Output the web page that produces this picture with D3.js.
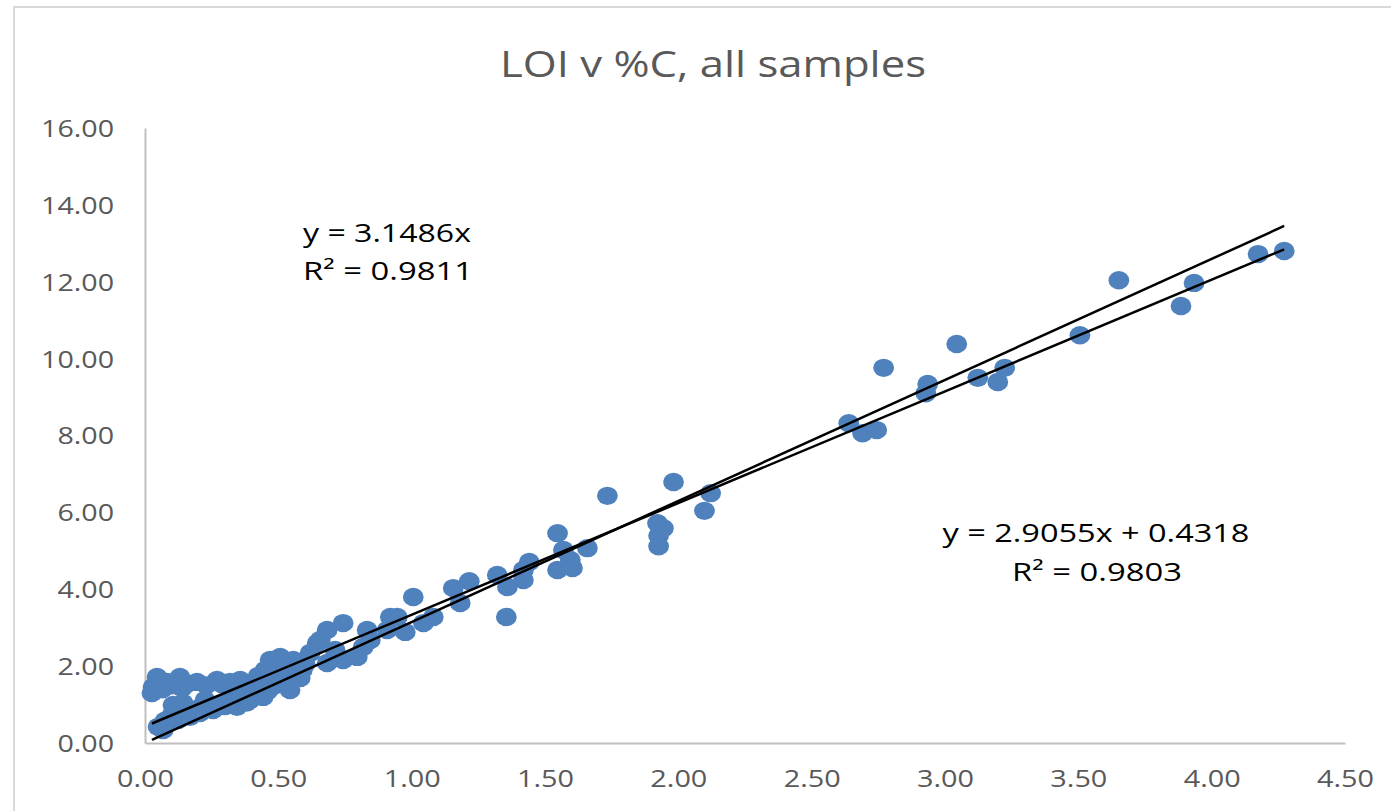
<!DOCTYPE html>
<html>
<head>
<meta charset="utf-8">
<script src="https://cdn.jsdelivr.net/npm/d3@7"></script>
<style>
html,body{margin:0;padding:0;background:#fff;}
svg{display:block;}
</style>
</head>
<body>
<svg id="chart" width="1391" height="811"></svg>
<script>
// ---- Data (%C vs LOI) ----
const xValues = [
  0.030,0.045,0.026,0.056,0.083,0.131,0.139,0.195,0.270,0.319,
  0.357,0.394,0.424,0.469,0.507,0.556,0.571,0.544,0.443,0.394,
  0.345,0.300,0.255,0.206,0.169,0.124,0.083,0.068,0.049,0.101,
  0.143,0.105,0.225,0.488,0.526,0.450,0.582,0.619,0.646,0.683,
  0.743,0.683,0.743,0.796,0.818,0.833,0.845,0.908,0.920,0.946,
  0.976,1.006,1.044,1.081,1.156,1.182,1.216,0.713,0.657,
  0.065,0.100,0.160,0.230,0.290,0.335,0.380,0.420,0.470,0.510,
  0.540,0.590,0.600,0.460,0.380,0.290,0.200,0.150,0.110,0.075,
  0.330,0.420,0.500,
  1.321,1.359,1.355,1.419,1.419,1.441,1.547,1.547,1.569,1.595,
  1.603,1.659,1.734,1.922,1.944,1.926,1.926,1.982,2.098,2.121,
  2.639,2.691,2.744,2.770,2.935,2.928,3.044,3.123,3.198,3.224,
  3.506,3.652,3.885,3.934,4.174,4.272
];
const yValues = [
  1.46,1.72,1.30,1.53,1.59,1.72,1.43,1.59,1.64,1.59,
  1.64,1.48,1.74,2.16,2.24,2.16,1.85,1.38,1.20,1.12,
  0.94,0.96,0.86,0.78,0.68,0.60,0.52,0.34,0.42,0.73,
  1.04,0.99,1.12,1.51,1.77,1.90,1.69,2.34,2.60,2.94,
  3.12,2.08,2.16,2.24,2.50,2.94,2.68,2.94,3.28,3.28,
  2.89,3.80,3.12,3.28,4.03,3.64,4.21,2.42,2.68,
  1.40,1.50,1.55,1.50,1.52,1.45,1.25,1.35,1.70,1.95,
  1.60,1.90,2.05,1.35,1.05,1.02,0.90,0.82,0.80,0.58,
  1.20,1.55,1.80,
  4.37,4.06,3.28,4.50,4.24,4.71,5.46,4.50,5.02,4.76,
  4.55,5.07,6.43,5.72,5.59,5.39,5.12,6.79,6.04,6.50,
  8.32,8.06,8.14,9.76,9.34,9.10,10.38,9.50,9.39,9.76,
  10.61,12.04,11.37,11.97,12.72,12.80
];
const xTickValues = [0,0.5,1,1.5,2,2.5,3,3.5,4,4.5];
const xTickLabels = ["0.00","0.50","1.00","1.50","2.00","2.50","3.00","3.50","4.00","4.50"];
const yTickValues = [0,2,4,6,8,10,12,14,16];
const yTickLabels = ["0.00","2.00","4.00","6.00","8.00","10.00","12.00","14.00","16.00"];
const titleText = "LOI v %C, all samples";
const fitThroughOrigin = {slope: 3.1486, intercept: 0, label: "y = 3.1486x", r2: "R² = 0.9811"};
const fitLinear = {slope: 2.9055, intercept: 0.4318, label: "y = 2.9055x + 0.4318", r2: "R² = 0.9803"};

// ---- Drawing ----
const svg = d3.select("#chart");
const FONT = "'Open Sans', 'Liberation Sans', sans-serif";
const GREY_TXT = "#595959";

// chart border
svg.append("rect").attr("x",14).attr("y",7).attr("width",1400).attr("height",830)
  .attr("fill","#fff").attr("stroke","#d9d9d9").attr("stroke-width",2);

const x = d3.scaleLinear().domain([0,4.5]).range([145,1345]);
const y = d3.scaleLinear().domain([0,16]).range([743,128]);

// stretch text horizontally to match target width
function fitWidth(sel, target){
  const w = sel.node().getComputedTextLength();
  return target / w;
}

// X axis
const gx = svg.append("g").attr("transform",`translate(0,${y(0)})`)
  .call(d3.axisBottom(x).tickValues(xTickValues).tickFormat((d,i)=>xTickLabels[i]).tickSize(0).tickSizeOuter(0));
gx.select(".domain").attr("stroke","#bfbfbf").attr("stroke-width",2);
gx.selectAll("text").attr("font-family",FONT).attr("font-size",24).attr("fill",GREY_TXT)
  .attr("dy",0).attr("y",44);
{
  const sx = fitWidth(gx.selectAll("text").filter((d,i)=>i===9), 57);
  gx.selectAll("text").attr("transform",`scale(${sx},1)`);
}

// Y axis
const gy = svg.append("g").attr("transform",`translate(${x(0)},0)`)
  .call(d3.axisLeft(y).tickValues(yTickValues).tickFormat((d,i)=>yTickLabels[i]).tickSize(0).tickSizeOuter(0));
gy.select(".domain").attr("stroke","#bfbfbf").attr("stroke-width",2);
gy.selectAll("text").attr("font-family",FONT).attr("font-size",24).attr("fill",GREY_TXT)
  .attr("dy","0.35em");
{
  const sx = fitWidth(gy.selectAll("text").filter((d,i)=>i===8), 73);
  gy.selectAll("text").attr("x", -31/sx).attr("transform",`scale(${sx},1)`);
}

// Title
{
  const t = svg.append("text").attr("font-family",FONT).attr("font-size",37).attr("fill",GREY_TXT)
    .attr("text-anchor","middle").text(titleText);
  const sx = fitWidth(t, 426);
  t.attr("transform",`translate(713,77) scale(${sx},1)`);
}

// Points
const pts = xValues.map((v,i)=>[v,yValues[i]]);
svg.append("g").selectAll("ellipse").data(pts).join("ellipse")
  .attr("cx",d=>x(d[0])).attr("cy",d=>y(d[1]))
  .attr("rx",10.4).attr("ry",9.2)
  .attr("fill","#4f81bd");

// Trend lines
const xmin = d3.min(xValues), xmax = d3.max(xValues);
const line = d3.line().x(d=>x(d[0])).y(d=>y(d[1]));
[fitThroughOrigin, fitLinear].forEach(f=>{
  svg.append("path")
    .attr("d", line([[xmin, f.slope*xmin+f.intercept],[xmax, f.slope*xmax+f.intercept]]))
    .attr("stroke","#000").attr("stroke-width",2.5).attr("fill","none");
});

// Equation labels
function label(txt, cx, by, width, anchor){
  const t = svg.append("text").attr("font-family",FONT).attr("font-size",26).attr("fill","#000")
    .attr("text-anchor",anchor).text(txt);
  const sx = fitWidth(t, width);
  t.attr("transform",`translate(${cx},${by}) scale(${sx},1)`);
}
label(fitThroughOrigin.label, 303, 242, 168, "start");
label(fitThroughOrigin.r2, 303, 280, 170, "start");
label(fitLinear.label, 1096, 542, 307, "middle");
label(fitLinear.r2, 1097, 581, 170, "middle");
</script>
</body>
</html>
